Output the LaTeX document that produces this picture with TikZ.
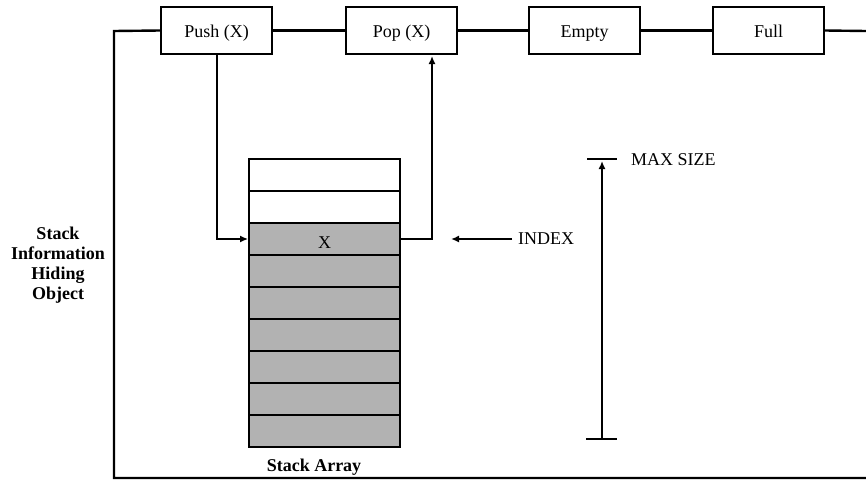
\documentclass[tikz,border=0pt]{standalone}
\usepackage{fontspec}
\setmainfont{Liberation Serif}
\usetikzlibrary{arrows.meta}
\definecolor{cellgray}{RGB}{178,178,178}
\begin{document}
\begin{tikzpicture}[x=1pt,y=-1pt,
  font=\fontsize{18}{20}\selectfont,
  frame/.style={line width=2.4pt},
  opbox/.style={draw, line width=1.8pt, fill=white, minimum width=111pt, minimum height=47pt,
    inner sep=0pt, text height=16pt, text depth=2pt},
  cell/.style={draw, line width=1.8pt, minimum width=151pt, minimum height=32pt, inner sep=0pt},
  fullcell/.style={cell, fill=cellgray},
  arr/.style={line width=1.8pt, -{Latex[length=8pt,width=7pt]}},
  lbl/.style={inner sep=2pt},
  boldlbl/.style={font=\fontsize{18}{20}\selectfont\bfseries, align=center}
]
\useasboundingbox (0,0) rectangle (866,479);

% operation boxes along the top
\node[opbox] (push)  at (216.5,30.5) {Push (X)};
\node[opbox] (pop)   at (401.5,30.5) {Pop (X)};
\node[opbox] (empty) at (584.5,30.5) {Empty};
\node[opbox] (full)  at (768.5,30.5) {Full};

% outer frame of the object
\coordinate (tl) at (114,31);
\coordinate (bl) at (114,478);
\coordinate (br) at (866,478);
\coordinate (tr) at (866,31);
\draw[frame] (push.west) -- (tl) -- (bl) -- (br);
\draw[frame] (push.east) -- (pop.west);
\draw[frame] (pop.east) -- (empty.west);
\draw[frame] (empty.east) -- (full.west);
\draw[frame] (full.east) -- (tr);

% stack array: two free slots, then the filled ones
\node[cell] (c1) at (324.5,175) {};
\node[cell] (c2) at (324.5,207) {};
\node[fullcell, text height=20pt, text depth=2pt] (c3) at (324.5,239) {X};
\foreach \i in {4,...,9}
  \node[fullcell] (c\i) at (324.5,{175+32*(\i-1)}) {};

% push and pop paths
\draw[arr] ([xshift=0.5pt]push.south) |- (c3.west);
\coordinate (popin) at (432,56);
\draw[arr] (c3.east) -| (popin);

% index pointer
\node[lbl, anchor=west] (index) at (516,239) {INDEX};
\coordinate (idxtip) at (451,239);
\draw[arr, shorten <=4pt] (index.west) -- (idxtip);

% maximum size marker
\coordinate (mtop) at (602,159);
\coordinate (mtip) at (602,161);
\coordinate (mbot) at (602,439);
\draw[line width=2.2pt] ([xshift=-15pt]mtop) -- ([xshift=15pt]mtop);
\draw[line width=2.2pt] ([xshift=-16pt]mbot) -- ([xshift=15pt]mbot);
\draw[line width=2.6pt, -{Latex[length=8pt,width=7pt]}] (mbot) -- (mtip);
\node[lbl, anchor=west] (maxsize) at (629,160) {MAX SIZE};

% captions
\node[boldlbl] (objlbl) at (58,265) {Stack\\Information\\Hiding\\Object};
\node[boldlbl] (arrlbl) at (314,467) {Stack Array};
\end{tikzpicture}
\end{document}
